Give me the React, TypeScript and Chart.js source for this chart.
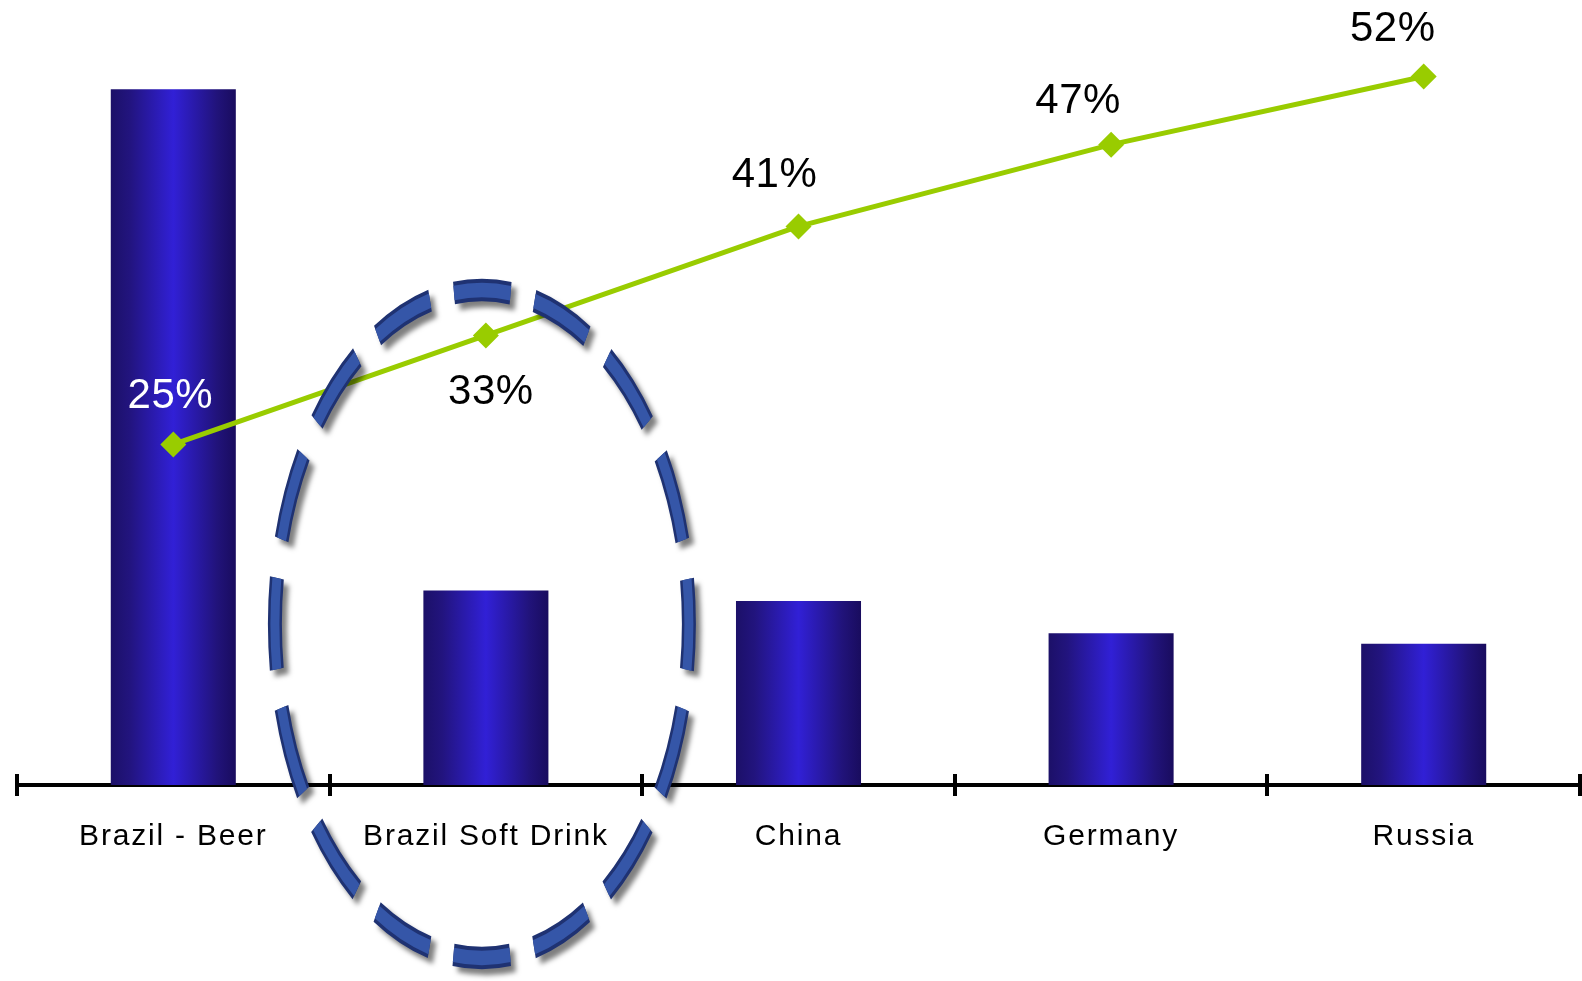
import React, { useEffect, useRef } from 'react';
import { Chart, registerables } from 'chart.js';

Chart.register(...registerables);

// ---- data ----
const categories = ['Brazil - Beer', 'Brazil Soft Drink', 'China', 'Germany', 'Russia'];
const barValues = [91.2, 25.5, 24.1, 19.9, 18.5];
const shareValues = [25, 33, 41, 47, 52];
const shareLabels = ['25%', '33%', '41%', '47%', '52%'];

// ---- styles ----
const FONT = '"Liberation Sans", Arial, Helvetica, sans-serif';
const BAR_PCT = 0.4;
const LABEL_COLORS = ['#ffffff', '#000000', '#000000', '#000000', '#000000'];
const LABEL_OFFSETS: [number, number][] = [
  [-3, -48],
  [5, 57],
  [-24, -51],
  [-33, -43],
  [-31, -47],
];
const ELLIPSE = { index: 1, dx: -4, dy: -161, rx: 207, ry: 334, count: 16, dashFrac: 0.7, width: 14 };

const labelsPlugin = {
  id: 'shareLabels',
  beforeDraw(chart: any) {
    chart.ctx.letterSpacing = '1.8px';
  },
  beforeDatasetsDraw(chart: any) {
    const xs = chart.scales.x;
    const ctx = chart.ctx;
    const n = categories.length;
    ctx.save();
    ctx.strokeStyle = '#000';
    ctx.lineWidth = 4;
    for (let i = 0; i <= n; i++) {
      const x = Math.round(xs.left + (i * xs.width) / n);
      ctx.beginPath();
      ctx.moveTo(x, xs.top - 11);
      ctx.lineTo(x, xs.top);
      ctx.stroke();
    }
    ctx.restore();
  },
  afterDatasetsDraw(chart: any) {
    const ctx = chart.ctx;
    const xs = chart.scales.x;
    const area = chart.chartArea;
    const cx = xs.getPixelForValue(ELLIPSE.index) + ELLIPSE.dx;
    const cy = area.bottom + ELLIPSE.dy;
    const r = ELLIPSE.rx;
    const stretch = ELLIPSE.ry / ELLIPSE.rx;
    const period = (2 * Math.PI * r) / ELLIPSE.count;
    const dash = period * ELLIPSE.dashFrac;
    ctx.save();
    ctx.translate(cx, cy);
    ctx.scale(1, stretch);
    ctx.setLineDash([dash, period - dash]);
    ctx.lineDashOffset = dash / 2;
    ctx.lineCap = 'butt';
    ctx.beginPath();
    ctx.arc(0, 0, r, 0, Math.PI * 2);
    ctx.shadowColor = 'rgba(0,0,0,0.5)';
    ctx.shadowBlur = 5;
    ctx.shadowOffsetX = 5;
    ctx.shadowOffsetY = 6;
    ctx.strokeStyle = '#1f3272';
    ctx.lineWidth = ELLIPSE.width;
    ctx.stroke();
    ctx.shadowColor = 'transparent';
    ctx.strokeStyle = '#3556a8';
    ctx.lineWidth = ELLIPSE.width - 5;
    ctx.stroke();
    ctx.restore();
  },
  afterDraw(chart: any) {
    const ctx = chart.ctx;
    const meta = chart.getDatasetMeta(0);
    ctx.save();
    ctx.letterSpacing = '0.5px';
    ctx.font = `42px ${FONT}`;
    ctx.textAlign = 'center';
    ctx.textBaseline = 'middle';
    meta.data.forEach((pt: any, i: number) => {
      const [dx, dy] = LABEL_OFFSETS[i];
      ctx.fillStyle = LABEL_COLORS[i];
      ctx.fillText(shareLabels[i], pt.x + dx, pt.y + dy);
    });
    ctx.restore();
  },
};

export default function App() {
  const ref = useRef<HTMLCanvasElement | null>(null);
  useEffect(() => {
    document.body.style.margin = '0';
    const canvas = ref.current;
    if (!canvas) return;
    const chart = new Chart(canvas, {
      type: 'bar',
      data: {
        labels: categories,
        datasets: [
          {
            type: 'line',
            label: 'Share',
            data: shareValues,
            yAxisID: 'y',
            order: 0,
            borderColor: '#99cc00',
            borderWidth: 5,
            pointStyle: 'rectRot',
            pointRadius: 13,
            pointBackgroundColor: '#99cc00',
            pointBorderWidth: 0,
            tension: 0,
            clip: false,
          } as any,
          {
            type: 'bar',
            label: 'Volume',
            data: barValues,
            yAxisID: 'yBar',
            order: 1,
            barPercentage: BAR_PCT,
            categoryPercentage: 1,
            borderWidth: 0,
            backgroundColor: (c: any) => {
              const chart = c.chart;
              const xs = chart.scales && chart.scales.x;
              if (!chart.chartArea || !xs || c.dataIndex === undefined) return '#2a1ab8';
              const center = xs.getPixelForValue(c.dataIndex);
              const half = ((xs.width / categories.length) * BAR_PCT) / 2;
              const g = chart.ctx.createLinearGradient(center - half, 0, center + half, 0);
              g.addColorStop(0, '#1c1068');
              g.addColorStop(0.15, '#22147e');
              g.addColorStop(0.5, '#3120d6');
              g.addColorStop(0.85, '#21137a');
              g.addColorStop(1, '#190c5e');
              return g;
            },
          } as any,
        ],
      },
      options: {
        responsive: false,
        animation: false,
        events: [],
        layout: { autoPadding: false, padding: { left: 17, right: 2, top: 22, bottom: 103 } },
        plugins: {
          legend: { display: false },
          tooltip: { enabled: false },
          title: { display: false },
        },
        scales: {
          x: {
            offset: true,
            grid: {
              offset: true,
              drawOnChartArea: false,
              drawTicks: true,
              tickLength: 11,
              tickWidth: 4,
              tickColor: '#000',
              color: '#000',
              lineWidth: 4,
            },
            border: { display: true, color: '#000', width: 4 },
            ticks: {
              color: '#000',
              font: { family: FONT, size: 30 },
              padding: 23,
              maxRotation: 0,
              minRotation: 0,
              autoSkip: false,
            },
          },
          y: { display: false, min: 0, max: 56 },
          yBar: { display: false, min: 0, max: 100, position: 'right' },
        },
      },
      plugins: [labelsPlugin],
    } as any);
    return () => chart.destroy();
  }, []);
  return (
    <div style={{ position: 'fixed', left: 0, top: 0, width: 1582, height: 981, background: '#fff' }}>
      <canvas ref={ref} width={1582} height={981} style={{ display: 'block' }} />
    </div>
  );
}
